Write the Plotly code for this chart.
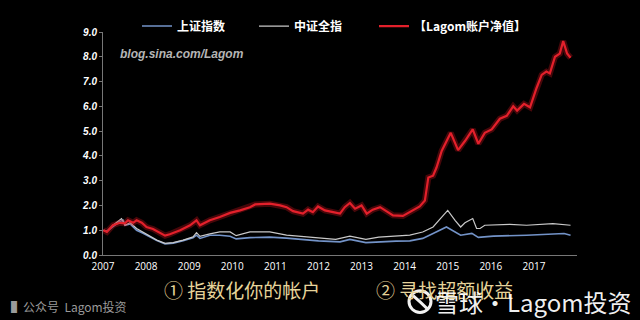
import plotly.graph_objects as go

# ---- data ----
lagom_x = [2007.01, 2007.09, 2007.23, 2007.39, 2007.51, 2007.58, 2007.70, 2007.78, 2007.90,
           2008.01, 2008.16, 2008.32, 2008.44, 2008.55, 2008.79, 2009.02, 2009.17, 2009.25,
           2009.48, 2009.71, 2009.95, 2010.18, 2010.41, 2010.53, 2010.87, 2011.11, 2011.26,
           2011.41, 2011.64, 2011.76, 2011.87, 2011.99, 2012.15, 2012.34, 2012.50, 2012.61,
           2012.73, 2012.85, 2013.00, 2013.12, 2013.26, 2013.43, 2013.58, 2013.73, 2013.96,
           2014.12, 2014.35, 2014.47, 2014.55, 2014.66, 2014.74, 2014.86, 2014.97, 2015.07,
           2015.24, 2015.40, 2015.58, 2015.71, 2015.86, 2016.02, 2016.21, 2016.37, 2016.52,
           2016.61, 2016.77, 2016.91, 2017.06, 2017.18, 2017.29, 2017.37, 2017.49, 2017.60,
           2017.68, 2017.77, 2017.85]
lagom_y = [1.00, 0.93, 1.20, 1.30, 1.28, 1.40, 1.30, 1.40, 1.30,
           1.13, 1.05, 0.88, 0.78, 0.84, 1.00, 1.20, 1.40, 1.20,
           1.40, 1.53, 1.70, 1.80, 1.93, 2.04, 2.07, 2.00, 1.93,
           1.77, 1.67, 1.83, 1.73, 1.96, 1.80, 1.73, 1.67, 1.93,
           2.10, 1.87, 2.00, 1.67, 1.83, 1.93, 1.77, 1.60, 1.58,
           1.73, 1.96, 2.20, 3.13, 3.20, 3.53, 4.20, 4.60, 4.93,
           4.23, 4.60, 5.07, 4.49, 4.93, 5.07, 5.50, 5.62, 6.00,
           5.83, 6.10, 5.96, 6.73, 7.27, 7.40, 7.33, 8.00, 8.13,
           8.63, 8.13, 7.96]

csi_x = [2007.01, 2007.09, 2007.23, 2007.39, 2007.43, 2007.51, 2007.63, 2007.78, 2007.93,
         2008.09, 2008.25, 2008.44, 2008.63, 2008.86, 2009.09, 2009.17, 2009.25, 2009.48,
         2009.71, 2009.95, 2010.09, 2010.41, 2010.87, 2011.26, 2011.70, 2012.10, 2012.40,
         2012.73, 2013.10, 2013.40, 2013.80, 2014.12, 2014.42, 2014.66, 2014.83, 2015.00,
         2015.17, 2015.30, 2015.40, 2015.58, 2015.67, 2015.75, 2015.86, 2016.44, 2016.83,
         2017.44, 2017.85]
csi_y = [1.00, 0.95, 1.20, 1.40, 1.47, 1.20, 1.30, 1.07, 0.93,
         0.76, 0.60, 0.47, 0.50, 0.60, 0.73, 0.90, 0.75, 0.85,
         0.93, 0.93, 0.78, 0.93, 0.93, 0.80, 0.73, 0.66, 0.63,
         0.76, 0.63, 0.72, 0.76, 0.80, 0.93, 1.13, 1.47, 1.80,
         1.40, 1.13, 1.30, 1.47, 1.07, 1.07, 1.20, 1.24, 1.20,
         1.27, 1.20]

sh_x = [2007.01, 2007.09, 2007.23, 2007.39, 2007.47, 2007.51, 2007.63, 2007.78, 2007.93,
        2008.09, 2008.25, 2008.44, 2008.63, 2008.86, 2009.09, 2009.17, 2009.25, 2009.48,
        2009.71, 2009.95, 2010.09, 2010.41, 2010.87, 2011.26, 2011.70, 2012.00, 2012.50,
        2012.73, 2013.10, 2013.40, 2013.80, 2014.12, 2014.42, 2014.66, 2014.97, 2015.30,
        2015.56, 2015.71, 2016.06, 2016.83, 2017.70, 2017.85]
sh_y = [1.00, 0.95, 1.15, 1.35, 1.40, 1.20, 1.25, 1.00, 0.88,
        0.72, 0.58, 0.45, 0.48, 0.58, 0.70, 0.80, 0.67, 0.80,
        0.80, 0.76, 0.65, 0.70, 0.72, 0.68, 0.60, 0.57, 0.53,
        0.63, 0.50, 0.53, 0.56, 0.57, 0.67, 0.87, 1.13, 0.80,
        0.87, 0.71, 0.76, 0.80, 0.87, 0.80]

year_ticks = list(range(2007, 2018))
y_ticks = [0, 1, 2, 3, 4, 5, 6, 7, 8, 9]

name_sh = "上证指数"
name_csi = "中证全指"
name_lagom = "【Lagom账户净值】"

CJK = "Noto Sans CJK SC"
PL, PW, PT, PH = 103, 474, 30, 225  # plot area in pixels


def px(x):
    return (x - PL) / PW


def py(y):
    return (PT + PH - y) / PH


fig = go.Figure()
fig.add_trace(go.Scatter(x=sh_x, y=sh_y, mode="lines", name=name_sh, legend="legend",
                         line=dict(color="#7393c8", width=1.6)))
fig.add_trace(go.Scatter(x=csi_x, y=csi_y, mode="lines", name=name_csi, legend="legend2",
                         line=dict(color="#c9c9c9", width=1.2)))
fig.add_trace(go.Scatter(x=lagom_x, y=lagom_y, mode="lines", showlegend=False,
                         hoverinfo="skip",
                         line=dict(color="rgba(200,20,30,0.35)", width=6)))
fig.add_trace(go.Scatter(x=lagom_x, y=lagom_y, mode="lines", name=name_lagom, legend="legend3",
                         line=dict(color="#e3202b", width=2.2)))

legend_font = dict(family=CJK, size=12, color="#ffffff", weight="bold")


def make_legend(xpix):
    return dict(orientation="h", x=px(xpix), y=py(24), xanchor="left", yanchor="middle",
                bgcolor="rgba(0,0,0,0)", itemwidth=30, font=legend_font)


fig.update_layout(
    width=640, height=320,
    margin=dict(l=PL, r=640 - PL - PW, t=PT, b=320 - PT - PH),
    paper_bgcolor="#000000", plot_bgcolor="#000000",
    showlegend=True,
    legend=make_legend(137),
    legend2=make_legend(254),
    legend3=make_legend(374),
    xaxis=dict(range=[2007, 2018], tickvals=year_ticks,
               ticktext=[str(t) for t in year_ticks],
               showgrid=False, zeroline=False, showline=True,
               linecolor="#777777", linewidth=1, ticks="", ticklabelstandoff=2,
               tickfont=dict(family="Open Sans", size=10, color="#ffffff")),
    yaxis=dict(range=[0, 9], tickvals=y_ticks,
               ticktext=[f"{v:.1f}" for v in y_ticks],
               showgrid=False, zeroline=False, showline=True,
               linecolor="#777777", linewidth=1, ticks="outside", ticklen=3,
               tickcolor="#777777",
               tickfont=dict(family="Liberation Sans", size=10, color="#ffffff",
                             weight="bold", style="italic")),
    annotations=[
        dict(text="blog.sina.com/Lagom", xref="paper", yref="paper",
             x=px(118), y=py(52), xanchor="left", yanchor="middle",
             showarrow=False,
             font=dict(family="Liberation Sans", size=12, color="#b5b5b5",
                       weight="bold", style="italic")),
        dict(text="▌公众号  Lagom投资", xref="paper", yref="paper",
             x=px(9), y=py(307), xanchor="left", yanchor="middle",
             showarrow=False,
             font=dict(family=CJK, size=12, color="#9a9a9a")),
        dict(text="① 指数化你的帐户", xref="paper", yref="paper",
             x=px(162), y=py(290), xanchor="left", yanchor="middle",
             showarrow=False,
             font=dict(family=CJK, size=19, color="#e6d49a")),
        dict(text="② 寻找超额收益", xref="paper", yref="paper",
             x=px(374), y=py(290), xanchor="left", yanchor="middle",
             showarrow=False,
             font=dict(family=CJK, size=19, color="#e6d49a")),
        dict(text="雪球·Lagom投资", xref="paper", yref="paper",
             x=px(433), y=py(302), xanchor="left", yanchor="middle",
             showarrow=False,
             font=dict(family=CJK, size=24, color="rgba(255,255,255,0.95)")),
    ],
    shapes=[
        dict(type="circle", xref="paper", yref="paper",
             x0=px(409), x1=px(431), y0=py(313), y1=py(291),
             line=dict(color="rgba(255,255,255,0.95)", width=3)),
        dict(type="path", xref="paper", yref="paper",
             path=f"M {px(413)},{py(296)} Q {px(420)},{py(302)} {px(427)},{py(309)}",
             line=dict(color="rgba(255,255,255,0.95)", width=3)),
    ],
)

fig.write_html("out.html")
